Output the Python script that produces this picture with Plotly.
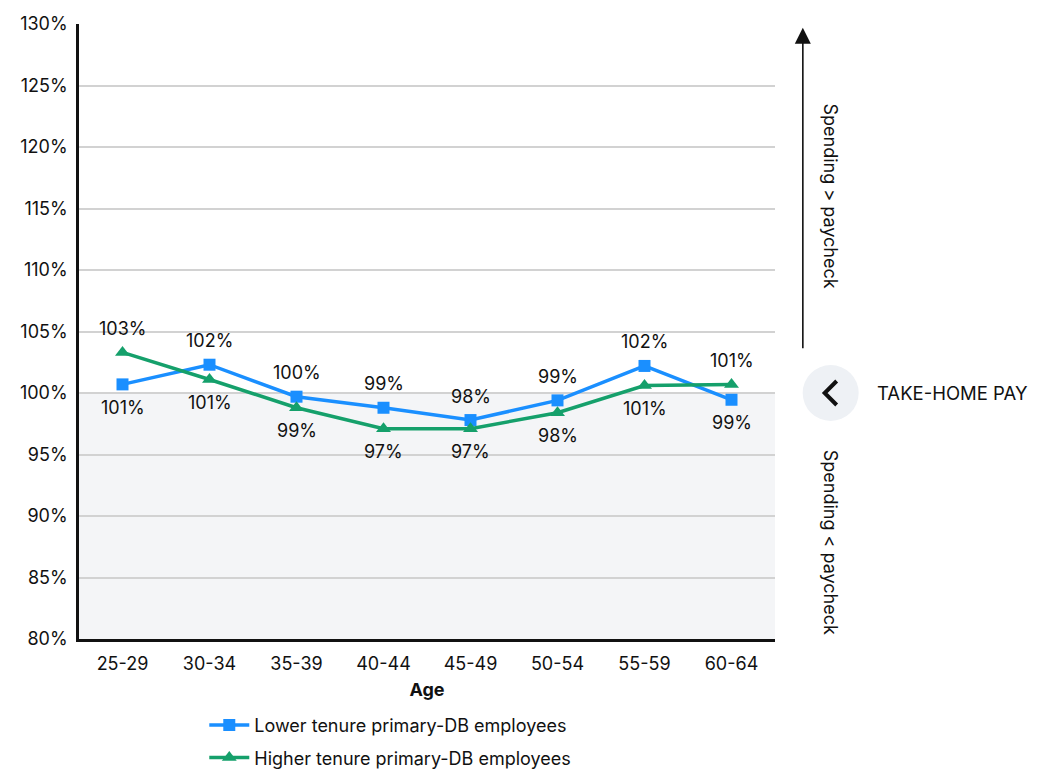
import plotly.graph_objects as go

ages = ["25-29", "30-34", "35-39", "40-44", "45-49", "50-54", "55-59", "60-64"]
lower_tenure = [100.7, 102.3, 99.7, 98.8, 97.8, 99.4, 102.2, 99.45]
higher_tenure = [103.3, 101.1, 98.8, 97.1, 97.1, 98.4, 100.6, 100.7]
y_ticks = list(range(80, 131, 5))
y_tick_labels = [f"{v}%" for v in y_ticks]

FONT = "Inter, Roboto, sans-serif"
BLUE = "#1a8fff"
GREEN = "#15a06b"

fig = go.Figure()
fig.add_trace(go.Scatter(
    x=ages, y=lower_tenure, mode="lines+markers",
    name="Lower tenure primary-DB employees", legendgroup="a",
    line=dict(color=BLUE, width=3.5),
    marker=dict(symbol="square", size=12, color=BLUE),
))
fig.add_trace(go.Scatter(
    x=ages, y=higher_tenure, mode="lines+markers",
    name="Higher tenure primary-DB employees", legendgroup="b",
    line=dict(color=GREEN, width=3.5),
    marker=dict(symbol="triangle-up", size=13, color=GREEN),
))

# data labels: the higher series of each pair is labelled above, the lower below
for series, other in ((lower_tenure, higher_tenure), (higher_tenure, lower_tenure)):
    for cat, v, o in zip(ages, series, other):
        above = v >= o
        fig.add_annotation(x=cat, y=v, text=f"{round(v):.0f}%", showarrow=False,
                           yshift=24 if above else -23,
                           font=dict(size=18, color="#111", family=FONT))

# shaded region below 100%
fig.add_shape(type="rect", xref="paper", yref="y", x0=0, x1=1, y0=80, y1=100,
              fillcolor="#f4f5f7", line_width=0, layer="below")

# right-side annotations
fig.add_annotation(xref="paper", yref="y", x=1.040, y=129.7, ax=0, ay=322,
                   showarrow=True, arrowhead=2, arrowsize=2.0, arrowwidth=1.6,
                   arrowcolor="#111", text="")
fig.add_annotation(xref="paper", yref="y", x=1.040, y=79.9, ax=0, ay=-200,
                   showarrow=True, arrowhead=2, arrowsize=2.0, arrowwidth=1.6,
                   arrowcolor="#111", text="")
fig.add_annotation(xref="paper", yref="y", x=1.098, y=116.0, text="Spending > paycheck",
                   textangle=90, showarrow=False, font=dict(size=18, color="#111", family=FONT))
fig.add_annotation(xref="paper", yref="y", x=1.098, y=87.85, text="Spending < paycheck",
                   textangle=90, showarrow=False, font=dict(size=18, color="#111", family=FONT))
fig.add_shape(type="circle", xref="paper", yref="y", xsizemode="pixel", ysizemode="pixel",
              xanchor=1.080, yanchor=100, x0=-28, x1=28, y0=-28, y1=28,
              fillcolor="#eef1f5", line_width=0)
fig.add_shape(type="path", xref="paper", yref="y", xsizemode="pixel", ysizemode="pixel",
              xanchor=1.080, yanchor=100, path="M 6,12 L -6,0 L 6,-12",
              line=dict(color="#111", width=4))
fig.add_annotation(xref="paper", yref="y", x=1.144, y=100, text="TAKE-HOME PAY",
                   xanchor="left", showarrow=False, font=dict(size=18.5, color="#111", family=FONT))

fig.update_layout(
    width=1053, height=773,
    margin=dict(l=79, r=278, t=24, b=134, autoexpand=False),
    plot_bgcolor="white", paper_bgcolor="white",
    font=dict(family=FONT, size=18, color="#111"),
    showlegend=True,
    legend=dict(xref="container", yref="container", x=0.194, y=0.0855,
                xanchor="left", yanchor="top",
                font=dict(size=18, family=FONT), tracegroupgap=6, itemwidth=40),
    xaxis=dict(
        range=[-0.5, 7.5], showgrid=False, showline=True, linecolor="#111", linewidth=2.5,
        ticks="", tickfont=dict(size=18), ticklabelstandoff=7, automargin=False,
        title=dict(text="<b>Age</b>", font=dict(size=18), standoff=11),
    ),
    yaxis=dict(
        range=[80, 130], tickvals=y_ticks, ticktext=y_tick_labels,
        showgrid=True, gridcolor="#d2d2d2", gridwidth=1.5, automargin=False,
        showline=True, linecolor="#111", linewidth=2.5, zeroline=False,
        ticks="", ticklabelstandoff=5, tickfont=dict(size=18),
    ),
)

fig.write_html("out.html")
